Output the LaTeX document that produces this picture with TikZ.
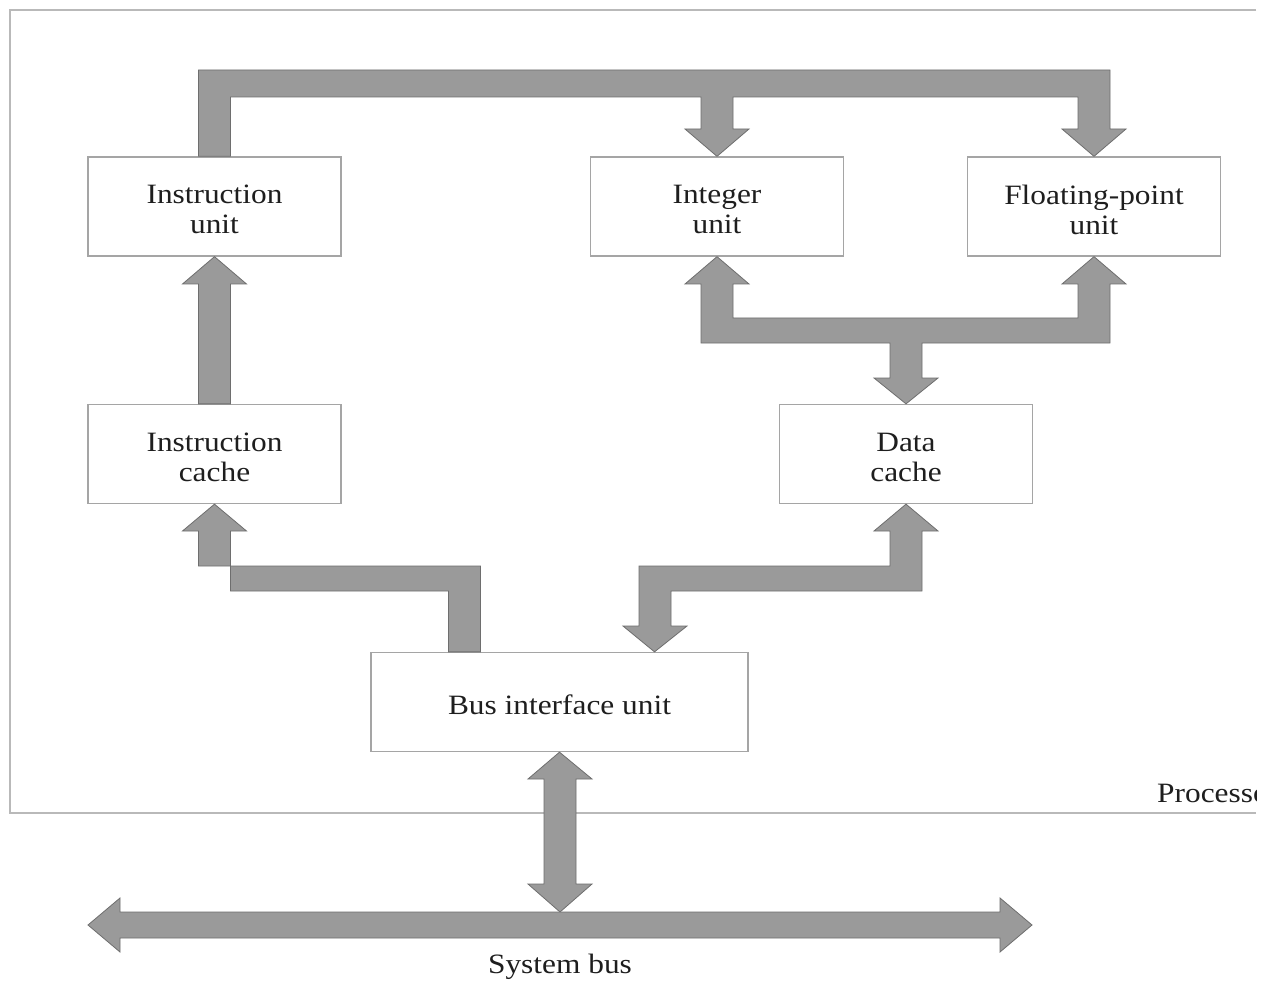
\documentclass[tikz,border=0pt]{standalone}
\usepackage{fontspec}
\setmainfont[FakeStretch=1.12]{Liberation Serif}
\usetikzlibrary{calc}
\definecolor{blkfill}{RGB}{154,154,154}
\definecolor{blkline}{RGB}{110,110,110}
\definecolor{boxline}{RGB}{165,165,165}
\definecolor{frameline}{RGB}{185,185,185}
\definecolor{txt}{RGB}{30,30,30}
\tikzset{
  unitbox/.style={draw=boxline, line width=1.3pt, fill=white, minimum width=253pt, minimum height=99pt,
    inner sep=0pt},
  boxtext/.style={align=center, text=txt, font=\fontsize{28}{30}\selectfont, inner sep=0pt},
  blk/.style={fill=blkfill, draw=blkline, line width=0.8pt, line join=miter},
  lbl/.style={text=txt, font=\fontsize{28}{30}\selectfont, inner sep=0pt}
}
\begin{document}
\begin{tikzpicture}[x=1pt,y=-1pt]
\useasboundingbox (0,0) rectangle (1268,981);
\fill[white] (0,0) rectangle (1268,981);
% processor frame
\draw[frameline, line width=2.2pt] (1256,10) -- (10,10) -- (10,813) -- (1256,813);
\begin{scope}
\clip (0,0) rectangle (1256,981);
\node[lbl, anchor=base west] (proc) at (1157,802) {Processor};
\end{scope}
% units
\node[unitbox] (iu) at (214.5,206.5) {};
\node[unitbox] (intu) at (717,206.5) {};
\node[unitbox] (fpu) at (1094,206.5) {};
\node[unitbox] (ic) at (214.5,454) {};
\node[unitbox] (dc) at (906,454) {};
\node[unitbox, minimum width=377pt] (biu) at (559.5,702) {};
\node[boxtext] (iu-t) at ([yshift=-3pt]iu.center) {Instruction\\unit};
\node[boxtext] (intu-t) at ([yshift=-3pt]intu.center) {Integer\\unit};
\node[boxtext] (fpu-t) at ([yshift=-3pt]fpu.center) {Floating-point\\unit};
\node[boxtext] (ic-t) at ([yshift=-3pt]ic.center) {Instruction\\cache};
\node[boxtext] (dc-t) at ([yshift=-3pt]dc.center) {Data\\cache};
\node[boxtext] (biu-t) at ([yshift=-3pt]biu.center) {Bus interface unit};
% top bus: instruction unit -> integer unit, floating-point unit
\draw[blk] ($(iu.north)+(-16,0)$) -- (198.5,70) -- (1110,70) -- (1110,129) -- (1126,129) -- (fpu.north)
  -- (1062,129) -- (1078,129) -- (1078,97) -- (733,97) -- (733,129) -- (749,129) -- (intu.north)
  -- (685,129) -- (701,129) -- (701,97) -- (230.5,97) -- ($(iu.north)+(16,0)$) -- cycle;
% instruction cache -> instruction unit
\draw[blk] ($(ic.north)+(-16,0)$) -- (198.5,284) -- (182.5,284) -- (iu.south) -- (246.5,284) -- (230.5,284)
  -- ($(ic.north)+(16,0)$) -- cycle;
% data cache <-> integer unit, floating-point unit
\draw[blk] (701,343) -- (701,284) -- (685,284) -- (intu.south) -- (749,284) -- (733,284) -- (733,318)
  -- (1078,318) -- (1078,284) -- (1062,284) -- (fpu.south) -- (1126,284) -- (1110,284) -- (1110,343)
  -- (922,343) -- (922,378) -- (938,378) -- (dc.north) -- (874,378) -- (890,378) -- (890,343) -- cycle;
% bus interface unit -> instruction cache
\draw[blk] ($(biu.north)+(-111,0)$) -- (448.5,591) -- (230.5,591) -- (230.5,531) -- (246.5,531) -- (ic.south)
  -- (182.5,531) -- (198.5,531) -- (198.5,566) -- (480.5,566) -- ($(biu.north)+(-79,0)$) -- cycle;
% data cache -> bus interface unit
\draw[blk] (dc.south) -- (938,531) -- (922,531) -- (922,591) -- (671,591) -- (671,626) -- (687,626)
  -- ($(biu.north)+(95,0)$) -- (623,626) -- (639,626) -- (639,566) -- (890,566) -- (890,531) -- (874,531) -- cycle;
% bus interface unit <-> system bus
\coordinate (sbtop) at (560,912);
\draw[blk] (biu.south) -- (592,779) -- (576,779) -- (576,884) -- (592,884) -- (sbtop) -- (528,884)
  -- (544,884) -- (544,779) -- (528,779) -- cycle;
% system bus
\coordinate (sbl) at (88,925);
\coordinate (sbr) at (1032,925);
\draw[blk] (sbl) -- (120,898) -- (120,912) -- (sbtop) -- (1000,912) -- (1000,898) -- (sbr) -- (1000,952)
  -- (1000,938) -- (120,938) -- (120,952) -- cycle;
\node[lbl] (sblabel) at (560,967) {System bus};
\end{tikzpicture}
\end{document}
